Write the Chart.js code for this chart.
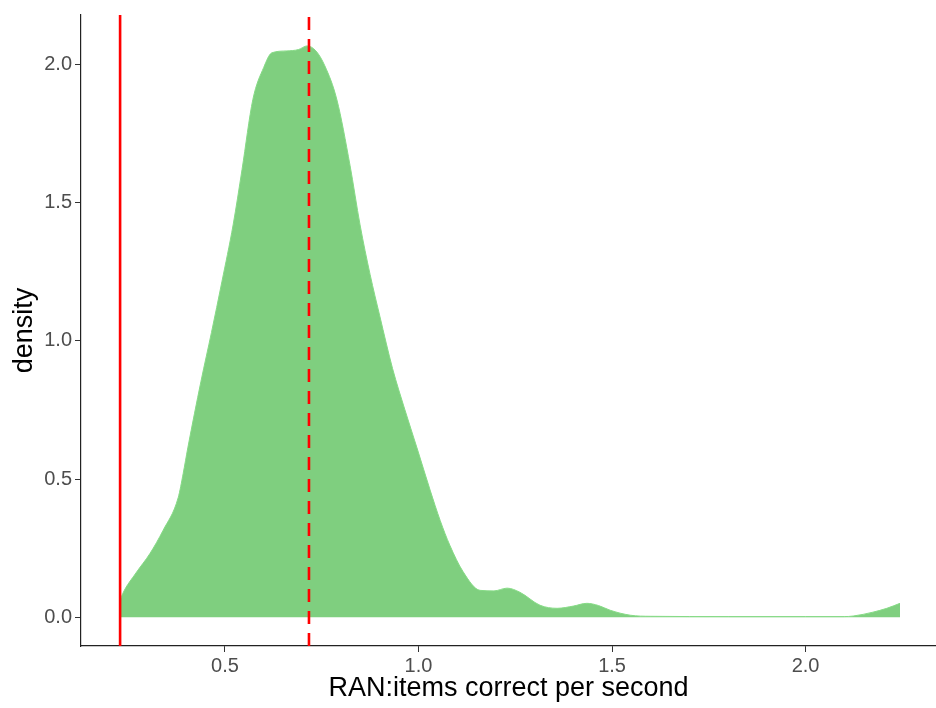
<!DOCTYPE html>
<html>
<head>
<meta charset="utf-8">
<script src="https://cdn.jsdelivr.net/npm/chart.js@4.4.1/dist/chart.umd.min.js"></script>
<style>
  html, body { margin: 0; padding: 0; background: #ffffff; }
  #wrap { width: 936px; height: 708px; }
</style>
</head>
<body>
<div id="wrap"><canvas id="c" width="936" height="708"></canvas></div>
<script>
// ---- data ----
const densityX = [0.229, 0.236, 0.27, 0.306, 0.34, 0.379, 0.392, 0.404, 0.438, 0.465, 0.492, 0.521, 0.544, 0.572, 0.60, 0.621, 0.66, 0.69, 0.712, 0.735, 0.758, 0.789, 0.823, 0.849, 0.875, 0.90, 0.933, 0.965, 0.996, 1.03, 1.056, 1.081, 1.115, 1.159, 1.195, 1.229, 1.262, 1.314, 1.358, 1.40, 1.435, 1.465, 1.495, 1.547, 1.60, 1.80, 2.00, 2.10, 2.123, 2.174, 2.21, 2.244];
const densityY = [0.06, 0.086, 0.16, 0.23, 0.314, 0.432, 0.52, 0.613, 0.854, 1.03, 1.214, 1.42, 1.62, 1.874, 1.99, 2.043, 2.05, 2.055, 2.068, 2.05, 1.996, 1.874, 1.636, 1.42, 1.24, 1.09, 0.90, 0.75, 0.613, 0.46, 0.35, 0.26, 0.165, 0.097, 0.095, 0.105, 0.09, 0.043, 0.032, 0.04, 0.05, 0.042, 0.025, 0.007, 0.003, 0.002, 0.002, 0.002, 0.004, 0.018, 0.032, 0.05];
const cutoffLine = 0.229;   // solid red line
const meanLine = 0.717;     // dashed red line
const xTicks = [0.5, 1.0, 1.5, 2.0];
const yTicks = [0.0, 0.5, 1.0, 1.5, 2.0];
const xRange = [0.128, 2.337];
const yRange = [-0.1045, 2.18];
const xTitle = 'RAN:items correct per second';
const yTitle = 'density';

const densityPts = densityX.map((x, i) => ({ x: x, y: densityY[i] }));
const vline = v => [{ x: v, y: yRange[0] }, { x: v, y: yRange[1] }];

const FONT = '"Liberation Sans", Arial, Helvetica, sans-serif';

new Chart(document.getElementById('c'), {
  type: 'line',
  data: {
    datasets: [
      {
        data: densityPts,
        fill: 'origin',
        backgroundColor: '#7FCF7F',
        borderColor: '#86DB86',
        borderWidth: 1,
        pointRadius: 0,
        cubicInterpolationMode: 'monotone',
        order: 3
      },
      {
        data: vline(cutoffLine),
        borderColor: '#FF0000',
        borderWidth: 2.6,
        pointRadius: 0,
        fill: false,
        order: 1
      },
      {
        data: vline(meanLine),
        borderColor: '#FF0000',
        borderWidth: 2.6,
        borderDash: [13, 9],
        pointRadius: 0,
        fill: false,
        order: 2
      }
    ]
  },
  options: {
    responsive: false,
    animation: false,
    clip: false,
    layout: { padding: { top: 12, right: 0, left: 0, bottom: 0 } },
    plugins: { legend: { display: false }, tooltip: { enabled: false } },
    scales: {
      x: {
        type: 'linear',
        min: xRange[0],
        max: xRange[1],
        afterFit: s => { s.height = 62; },
        afterBuildTicks: s => { s.ticks = xTicks.map(v => ({ value: v })); },
        grid: { drawOnChartArea: false, drawTicks: true, tickLength: 6, color: '#333333', tickWidth: 1 },
        border: { display: true, color: '#222222', width: 1.2 },
        ticks: {
          color: '#4D4D4D',
          padding: 2,
          maxRotation: 0,
          font: { family: FONT, size: 20 },
          callback: v => Number(v).toFixed(1)
        },
        title: {
          display: true,
          text: xTitle,
          color: '#000000',
          font: { family: FONT, size: 27 },
          padding: { top: 0, bottom: 3 }
        }
      },
      y: {
        type: 'linear',
        min: yRange[0],
        max: yRange[1],
        afterFit: s => { s.width = 81; },
        afterBuildTicks: s => { s.ticks = yTicks.map(v => ({ value: v })); },
        grid: { drawOnChartArea: false, drawTicks: true, tickLength: 6, color: '#333333', tickWidth: 1 },
        border: { display: true, color: '#222222', width: 1.2 },
        ticks: {
          color: '#4D4D4D',
          padding: 3,
          font: { family: FONT, size: 20 },
          callback: v => Number(v).toFixed(1)
        },
        title: {
          display: true,
          text: yTitle,
          color: '#000000',
          font: { family: FONT, size: 27 },
          padding: { top: 8, bottom: 0 }
        }
      }
    }
  }
});
</script>
</body>
</html>
